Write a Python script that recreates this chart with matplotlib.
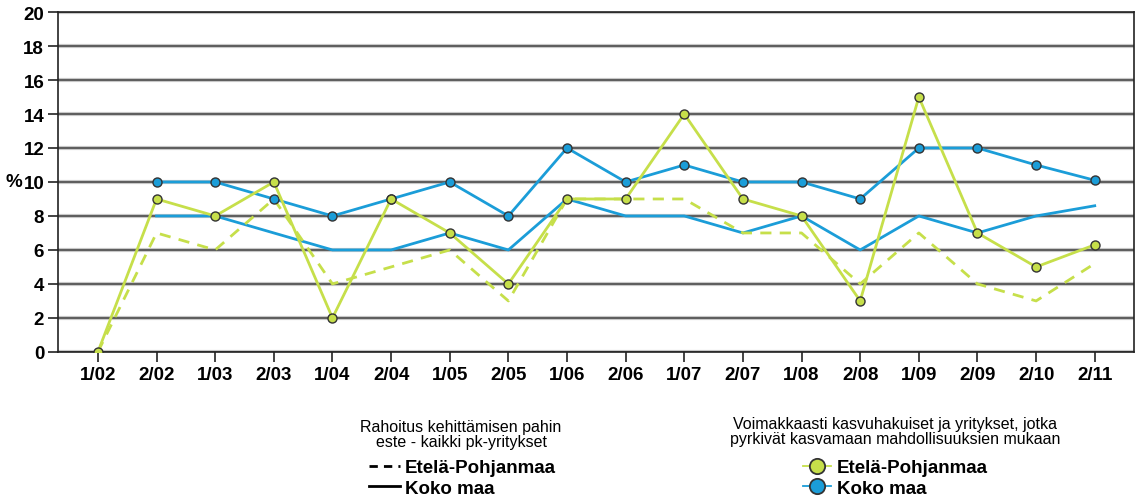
import numpy as np
import matplotlib.pyplot as plt
from matplotlib.lines import Line2D

plt.rcParams['font.family'] = ['Liberation Sans', 'DejaVu Sans']

# periods on the x axis
periods = ['1/02', '2/02', '1/03', '2/03', '1/04', '2/04', '1/05', '2/05', '1/06',
           '2/06', '1/07', '2/07', '1/08', '2/08', '1/09', '2/09', '2/10', '2/11']

# "Rahoitus kehittämisen pahin este - kaikki pk-yritykset"
ep_all = [0, 7, 6, 9, 4, 5, 6, 3, 9, 9, 9, 7, 7, 4, 7, 4, 3, 5.2]
kk_all = [np.nan, 8, 8, 7, 6, 6, 7, 6, 9, 8, 8, 7, 8, 6, 8, 7, 8, 8.6]

# "Voimakkaasti kasvuhakuiset ja yritykset ..."
ep_growth = [0, 9, 8, 10, 2, 9, 7, 4, 9, 9, 14, 9, 8, 3, 15, 7, 5, 6.3]
kk_growth = [np.nan, 10, 10, 9, 8, 9, 10, 8, 12, 10, 11, 10, 10, 9, 12, 12, 11, 10.1]

series_names = ['Etelä-Pohjanmaa', 'Koko maa']
title_all = 'Rahoitus kehittämisen pahin\neste - kaikki pk-yritykset'
title_growth = ('Voimakkaasti kasvuhakuiset ja yritykset, jotka\n'
                'pyrkivät kasvamaan mahdollisuuksien mukaan')

green = '#c6df4a'
blue = '#1b9dd8'
edge = '#333333'

x = np.arange(len(periods))

fig = plt.figure(figsize=(11.38, 5.02), dpi=100)
ax = fig.add_axes([0.051, 0.297, 0.9455, 0.677])

for yv in range(0, 21, 2):
    ax.axhline(yv, color='#c8c8c8', lw=3.0, zorder=0.5)
    ax.axhline(yv, color='#4a4a4a', lw=1.2, zorder=1)

ax.plot(x, kk_all, color=blue, lw=2, zorder=2)
ax.plot(x, ep_all, color=green, lw=2, ls=(0, (4, 3)), zorder=2)
ax.plot(x, kk_growth, color=blue, lw=2, marker='o', ms=6.5,
        mfc=blue, mec=edge, mew=1, zorder=3)
ax.plot(x, ep_growth, color=green, lw=2, marker='o', ms=6.5,
        mfc=green, mec=edge, mew=1, zorder=4)

ax.set_xlim(-0.68, 17.67)
ax.set_ylim(0, 20)
ax.set_yticks(range(0, 21, 2))
ax.set_xticks(x)
ax.set_xticklabels(periods)
ax.tick_params(axis='both', length=7, width=1.2, color='#222222',
               labelsize=13.5, pad=3)
for lab in ax.get_xticklabels() + ax.get_yticklabels():
    lab.set_fontweight('bold')
for sp in ax.spines.values():
    sp.set_color('#222222')
    sp.set_linewidth(1.2)

ax.text(-0.0335, 10, '%', transform=ax.get_yaxis_transform(), ha='right',
        va='center', fontsize=13.5, fontweight='bold')

# left legend
fig.text(461 / 1138, 1 - 435 / 502, title_all, ha='center', va='center',
         multialignment='center', fontsize=11.5, linespacing=0.95)
h1 = [Line2D([], [], color='black', lw=2, ls=(0, (3, 2.2))),
      Line2D([], [], color='black', lw=2)]
fig.legend(h1, series_names, loc='upper left',
           bbox_to_anchor=(369 / 1138, 1 - 460 / 502),
           frameon=False, borderpad=0, borderaxespad=0,
           handlelength=1.65, handletextpad=0.25, labelspacing=0.2,
           prop={'size': 13.5, 'weight': 'bold'})

# right legend
fig.text(895 / 1138, 1 - 432 / 502, title_growth, ha='center', va='center',
         multialignment='center', fontsize=11.5, linespacing=0.95)
h2 = [Line2D([], [], color=green, lw=1.3, marker='o', ms=11, mfc=green, mec=edge, mew=1.3),
      Line2D([], [], color=blue, lw=1.3, marker='o', ms=11, mfc=blue, mec=edge, mew=1.3)]
fig.legend(h2, series_names, loc='upper left',
           bbox_to_anchor=(803 / 1138, 1 - 460 / 502),
           frameon=False, borderpad=0, borderaxespad=0,
           handlelength=1.5, handletextpad=0.3, labelspacing=0.2,
           prop={'size': 13.5, 'weight': 'bold'})

fig.savefig('out.png', dpi=100)
